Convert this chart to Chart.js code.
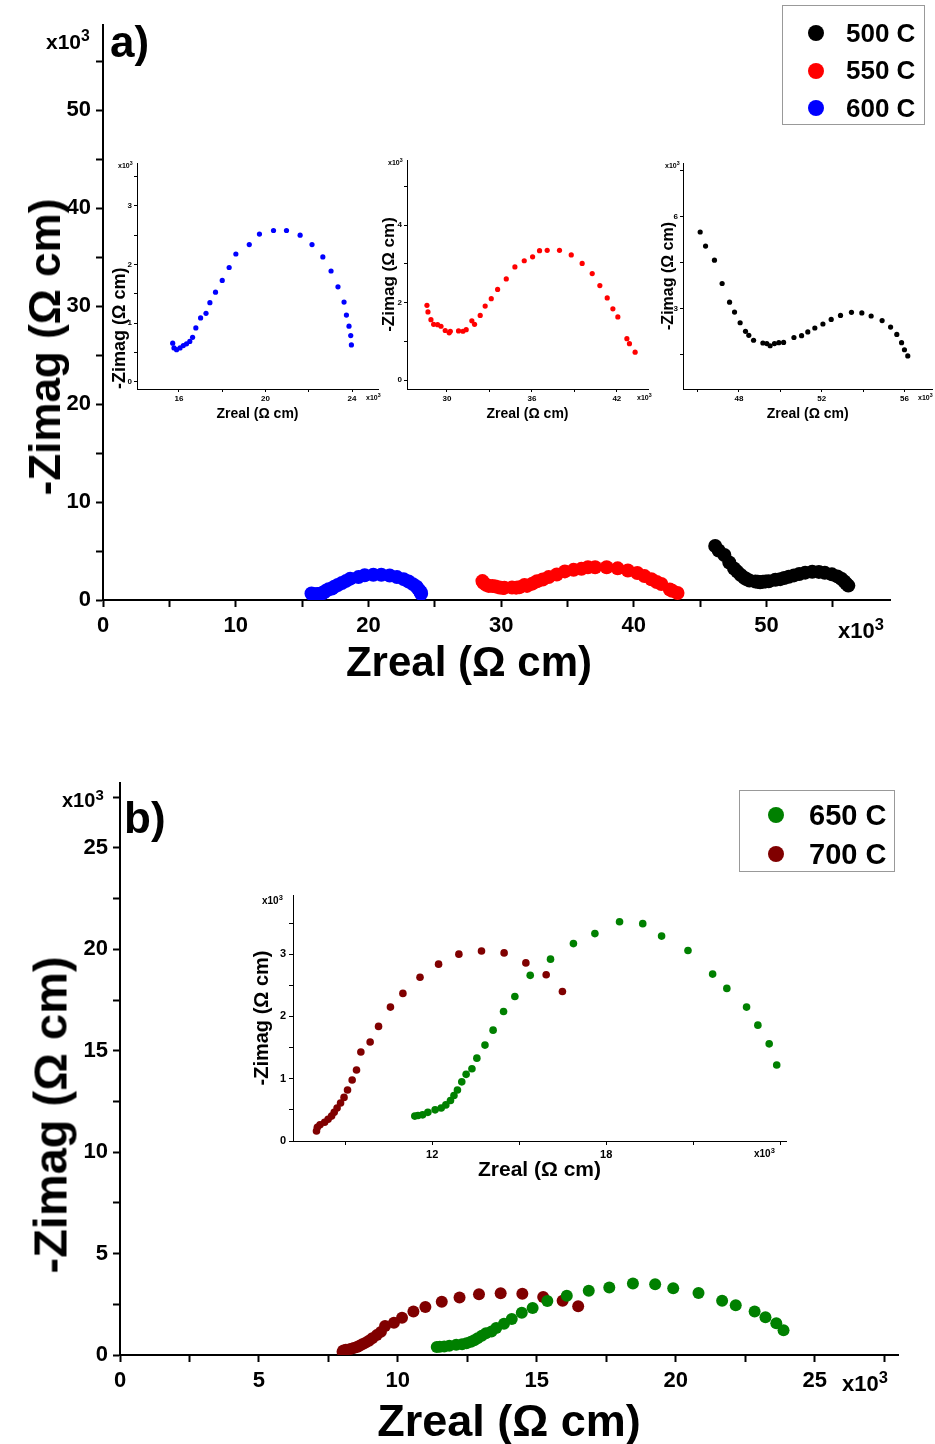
<!DOCTYPE html>
<html>
<head>
<meta charset="utf-8">
<script src="https://cdn.jsdelivr.net/npm/chart.js@4.4.1/dist/chart.umd.min.js"></script>
<style>
body { margin:0; background:#fff; }
#page { position:relative; width:935px; height:1444px; overflow:hidden; font-family:"Liberation Sans", Arial, sans-serif; color:#000; }
canvas { position:absolute; }
.t { position:absolute; font-weight:bold; white-space:nowrap; line-height:1; }
.t .sup { position:relative; top:-0.5em; font-size:0.75em; }
.legend { position:absolute; border:1px solid #999; background:#fff; box-sizing:border-box; font-weight:bold; }
.legend .row { position:absolute; display:flex; align-items:center; white-space:nowrap; }
.legend .dot { border-radius:50%; flex:none; }
</style>
</head>
<body>
<div id="page">
  <canvas id="cA" width="935" height="700" style="left:0;top:0"></canvas>
  <canvas id="cB" width="935" height="724" style="left:0;top:720px"></canvas>
  <canvas id="i1" width="285" height="280" style="left:105px;top:150px"></canvas>
  <canvas id="i2" width="285" height="280" style="left:375px;top:150px"></canvas>
  <canvas id="i3" width="280" height="280" style="left:655px;top:150px"></canvas>
  <canvas id="i4" width="555" height="310" style="left:245px;top:880px"></canvas>

  <div class="t" style="left:110px;top:20px;font-size:44px">a)</div>
  <div class="t" style="left:124px;top:796px;font-size:44px">b)</div>

  <div class="t" style="left:45px;top:347px;font-size:44px;transform:translate(-50%,-50%) rotate(-90deg)">-Zimag (Ω cm)</div>
  <div class="t" style="left:469px;top:662px;font-size:42px;transform:translate(-50%,-50%)">Zreal (Ω cm)</div>
  <div class="t" style="left:50px;top:1115px;font-size:47px;transform:translate(-50%,-50%) rotate(-90deg)">-Zimag (Ω cm)</div>
  <div class="t" style="left:509px;top:1420px;font-size:45px;transform:translate(-50%,-50%)">Zreal (Ω cm)</div>

  <div id="legA" class="legend" style="left:782px;top:5px;width:143px;height:120px"></div>
  <div id="legB" class="legend" style="left:739px;top:790px;width:156px;height:82px"></div>
</div>
<script>
// impedance data, values in kOhm cm (x10^3)
const zreal500 = [46.13,46.39,46.82,47.19,47.55,47.79,48.06,48.32,48.48,48.71,49.16,49.35,49.51,49.72,49.93,50.16,50.66,51.03,51.33,51.67,52.06,52.46,52.91,53.44,53.94,54.39,54.92,55.33,55.63,55.86,56.0,56.16];
const zimag500 = [5.51,5.05,4.59,3.83,3.22,2.90,2.55,2.27,2.14,1.98,1.89,1.87,1.80,1.87,1.90,1.91,2.07,2.13,2.25,2.38,2.51,2.66,2.79,2.89,2.87,2.77,2.62,2.41,2.17,1.90,1.67,1.47];

const zreal550 = [28.59,28.66,28.87,29.06,29.34,29.58,29.88,30.16,30.24,30.82,31.13,31.36,31.76,31.95,32.35,32.7,33.13,33.58,34.19,34.8,35.46,36.05,36.54,37.08,37.95,38.78,39.55,40.26,40.8,41.32,41.72,42.07,42.71,42.89,43.29];
const zimag550 = [1.93,1.76,1.56,1.44,1.43,1.39,1.28,1.22,1.26,1.27,1.26,1.30,1.53,1.44,1.67,1.91,2.10,2.34,2.61,2.92,3.08,3.18,3.34,3.35,3.35,3.23,3.01,2.75,2.44,2.12,1.84,1.63,1.07,0.94,0.72];

const zreal600 = [15.71,15.77,15.89,16.05,16.2,16.35,16.5,16.63,16.78,17.0,17.25,17.43,17.69,18.0,18.32,18.63,19.25,19.72,20.37,20.97,21.6,22.15,22.65,23.03,23.35,23.63,23.74,23.86,23.94,23.97];
const zimag600 = [0.66,0.58,0.55,0.58,0.62,0.65,0.69,0.76,0.92,1.09,1.17,1.35,1.53,1.73,1.95,2.18,2.34,2.52,2.58,2.58,2.5,2.34,2.13,1.89,1.62,1.36,1.14,0.95,0.79,0.63];

const zreal650 = [11.4,11.51,11.67,11.85,12.1,12.31,12.47,12.63,12.75,12.87,13.02,13.17,13.37,13.54,13.82,14.1,14.46,14.85,15.38,16.08,16.87,17.61,18.46,19.26,19.91,20.82,21.67,22.16,22.84,23.23,23.62,23.88];
const zimag650 = [0.40,0.41,0.42,0.46,0.50,0.53,0.58,0.65,0.73,0.82,0.95,1.07,1.16,1.33,1.54,1.78,2.08,2.32,2.66,2.92,3.17,3.33,3.52,3.49,3.29,3.06,2.68,2.45,2.15,1.86,1.56,1.22];

const zreal700 = [8.01,8.04,8.13,8.29,8.41,8.53,8.62,8.72,8.84,8.96,9.08,9.24,9.39,9.54,9.86,10.15,10.56,10.99,11.58,12.22,12.92,13.7,14.48,15.23,15.93,16.49];
const zimag700 = [0.16,0.22,0.26,0.30,0.35,0.40,0.46,0.53,0.61,0.70,0.82,0.98,1.14,1.43,1.59,1.84,2.15,2.37,2.63,2.84,3.00,3.05,3.02,2.86,2.67,2.40];

const seriesA = ['500 C', '550 C', '600 C'];
const seriesB = ['650 C', '700 C'];

const F = '"Liberation Sans", Arial, sans-serif';
Chart.defaults.font.family = F;
Chart.defaults.color = '#000';

function pts(xs, ys) {
    return xs.map((x, i) => ({ x: x, y: ys[i] }));
}

function ds(label, xs, ys, color, r) {
    return { label: label, data: pts(xs, ys), backgroundColor: color, borderColor: color, pointRadius: r, pointBorderWidth: 0, pointHoverRadius: r };
}

function setA(r) {
    return [
        ds(seriesA[0], zreal500, zimag500, '#000000', r),
        ds(seriesA[1], zreal550, zimag550, '#ff0000', r),
        ds(seriesA[2], zreal600, zimag600, '#0000ff', r)
    ];
}
function setB(r) {
    return [
        ds(seriesB[0], zreal650, zimag650, '#008000', r),
        ds(seriesB[1], zreal700, zimag700, '#800000', r)
    ];
}

function axis(a, pos) {
    return {
        type: 'linear', position: pos, min: a.min, max: a.max,
        afterFit: s => { if (pos === 'bottom') s.height = a.size; else s.width = a.size; },
        border: { color: '#000', width: a.lw },
        grid: { drawOnChartArea: false, drawTicks: true, tickLength: a.tick, tickColor: '#000', tickWidth: a.lw },
        ticks: {
            stepSize: a.step, includeBounds: false, autoSkip: false, maxRotation: 0,
            padding: a.tpad, color: '#000',
            font: { family: F, size: a.fs, weight: 'bold' },
            callback: v => a.show(v) ? String(v) : ''
        },
        // bottom titles are offset by padding.bottom, left titles by padding.top
        title: a.title ? {
            display: true, text: a.title, color: '#000', align: a.talign || 'center',
            font: { family: F, size: a.tfs, weight: 'bold', lineHeight: 1 },
            padding: { top: a.tp, bottom: a.tp }
        } : { display: false }
    };
}

function makeChart(id, datasets, o) {
    return new Chart(document.getElementById(id), {
        type: 'scatter',
        data: { datasets: datasets },
        options: {
            responsive: false, animation: false,
            layout: { padding: o.pad },
            plugins: { legend: { display: false }, tooltip: { enabled: false } },
            scales: { x: axis(o.x, 'bottom'), y: axis(o.y, 'left') }
        }
    });
}

const isInt = v => Math.abs(v - Math.round(v)) < 1e-9;

// panel a
const chartA = makeChart('cA', setA(7), {
    pad: { top: 25, right: 45, left: 0, bottom: 0 },
    x: { min: 0, max: 59.3, step: 5, show: v => v % 10 === 0, size: 100, tick: 7, tpad: 6, fs: 22, lw: 2 },
    y: { min: 0, max: 58.7, step: 5, show: v => v % 10 === 0, size: 103, tick: 7, tpad: 5, fs: 22, lw: 2 }
});

// panel b
const chartB = makeChart('cB', setB(6), {
    pad: { top: 63, right: 37, left: 0, bottom: 0 },
    x: { min: 0, max: 28, step: 2.5, show: v => v % 5 === 0, size: 89, tick: 7, tpad: 6, fs: 22, lw: 2 },
    y: { min: 0, max: 28.2, step: 2.5, show: v => v % 5 === 0, size: 120, tick: 7, tpad: 5, fs: 22, lw: 2 }
});

// insets of panel a
const tX = 'Zreal (Ω cm)', tY = '-Zimag (Ω cm)';
makeChart('i1', [setA(2.6)[2]], {
    pad: { top: 13, right: 12, left: 0, bottom: 0 },
    x: { min: 14.06, max: 25.2, step: 2, show: v => v % 4 === 0, size: 41, tick: 3, tpad: 2, fs: 8, lw: 1, title: tX, tfs: 14, tp: 9 },
    y: { min: -0.12, max: 3.73, step: 0.5, show: isInt, size: 32, tick: 3, tpad: 2, fs: 8, lw: 1, title: tY, tfs: 18, tp: 6, talign: 'start' }
});
makeChart('i2', [setA(2.6)[1]], {
    pad: { top: 10, right: 12, left: 0, bottom: 0 },
    x: { min: 27.18, max: 44.2, step: 3, show: v => v % 6 === 0, size: 41, tick: 3, tpad: 2, fs: 8, lw: 1, title: tX, tfs: 14, tp: 9 },
    y: { min: -0.23, max: 5.68, step: 1, show: v => v % 2 === 0, size: 32, tick: 3, tpad: 2, fs: 8, lw: 1, title: tY, tfs: 17, tp: 6 }
});
makeChart('i3', [setA(2.6)[0]], {
    pad: { top: 13, right: 2, left: 0, bottom: 0 },
    x: { min: 45.3, max: 57.35, step: 2, show: v => v % 4 === 0, size: 41, tick: 3, tpad: 2, fs: 8, lw: 1, title: tX, tfs: 14, tp: 9 },
    y: { min: 0.39, max: 7.76, step: 1.5, show: v => v % 3 === 0, size: 28, tick: 3, tpad: 2, fs: 8, lw: 1, title: tY, tfs: 16, tp: 6 }
});

// inset of panel b
makeChart('i4', setB(3.8), {
    pad: { top: 15, right: 14, left: 0, bottom: 0 },
    x: { min: 7.2, max: 24.2, step: 3, show: v => v === 12 || v === 18, size: 49, tick: 4, tpad: 3, fs: 11, lw: 1, title: tX, tfs: 21, tp: 9 },
    y: { min: 0, max: 3.95, step: 0.5, show: isInt, size: 48, tick: 4, tpad: 3, fs: 11, lw: 1, title: tY, tfs: 20, tp: 7 }
});

// x10^3 multipliers
const page = document.getElementById('page');
function mult(left, top, size) {
    const d = document.createElement('div');
    d.className = 't';
    d.style.left = left + 'px';
    d.style.top = top + 'px';
    d.style.fontSize = size + 'px';
    d.innerHTML = 'x10<span class="sup">3</span>';
    page.appendChild(d);
}
mult(46, 31, 21); mult(838, 620, 22);
mult(62, 790, 20); mult(842, 1373, 22);
mult(118, 162, 7); mult(366, 394, 7);
mult(388, 159, 7); mult(637, 394, 7);
mult(665, 162, 7); mult(918, 394, 7);
mult(262, 896, 10); mult(754, 1149, 10);

// legends built from the chart datasets
function buildLegend(chart, id, o) {
    const box = document.getElementById(id);
    chart.data.datasets.forEach((d, i) => {
        const row = document.createElement('div');
        row.className = 'row';
        row.style.left = (o.dotX - o.r) + 'px';
        row.style.top = (o.y0 + i * o.dy - 20) + 'px';
        row.style.height = '40px';
        row.style.fontSize = o.fs + 'px';
        const dot = document.createElement('span');
        dot.className = 'dot';
        dot.style.width = dot.style.height = (2 * o.r) + 'px';
        dot.style.background = d.backgroundColor;
        const lab = document.createElement('span');
        lab.textContent = d.label;
        lab.style.marginLeft = (o.textX - o.dotX - o.r) + 'px';
        row.appendChild(dot);
        row.appendChild(lab);
        box.appendChild(row);
    });
}
buildLegend(chartA, 'legA', { y0: 27, dy: 37.5, dotX: 33, textX: 63, r: 8, fs: 26 });
buildLegend(chartB, 'legB', { y0: 24, dy: 39, dotX: 36, textX: 69, r: 8, fs: 29 });
</script>
</body>
</html>
